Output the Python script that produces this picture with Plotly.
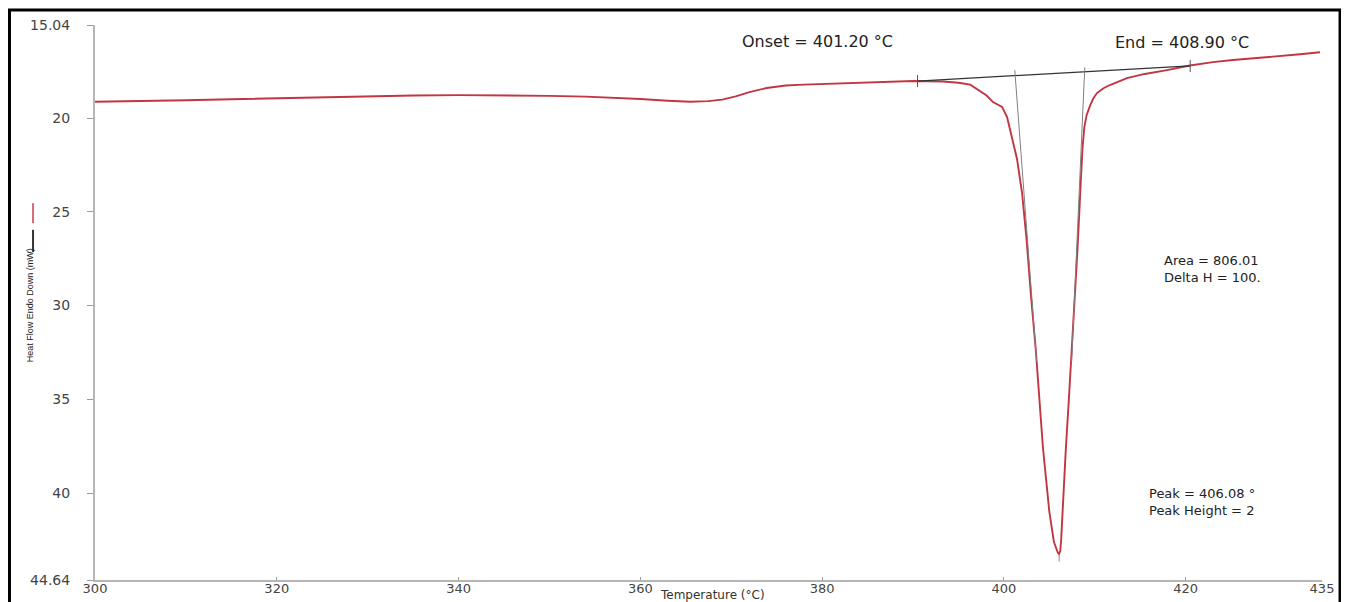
import plotly.graph_objects as go

# ---- data ----
temperature = [300.0, 305, 310, 315, 320, 325, 330, 335, 340, 345, 350, 354, 357, 360, 363,
               365.5, 367.5, 369, 370.5, 372, 373.9, 376, 378, 380, 383, 386, 390, 393.3,
               395, 396.3, 397.4, 398.1, 398.8, 399.8, 400.35, 400.9, 401.45, 402.0, 402.5,
               403.0, 403.5, 404.3, 405.0, 405.5, 405.75, 405.95, 406.08, 406.2, 406.3, 406.5,
               406.81, 407.15, 407.49, 408.1, 408.45, 408.65, 408.85, 409.1, 409.47, 409.85,
               410.24, 411.0, 411.67, 413.54, 415.5, 417.94, 420.47, 423, 425.2, 427, 428.95,
               431, 432.6, 434.78]
heat_flow = [19.13, 19.10, 19.05, 19.00, 18.94, 18.89, 18.84, 18.80, 18.78, 18.78, 18.82, 18.86,
             18.92, 18.99, 19.08, 19.13, 19.10, 19.02, 18.85, 18.62, 18.40, 18.27, 18.22, 18.19,
             18.15, 18.10, 18.03, 18.05, 18.12, 18.22, 18.55, 18.80, 19.15, 19.41, 19.95, 21.0,
             22.2, 24.0, 26.5, 29.6, 32.3, 37.6, 41.0, 42.6, 43.0, 43.2, 43.25, 43.1, 42.5, 40.4,
             37.7, 35.0, 32.3, 27.0, 23.5, 21.6, 20.5, 19.85, 19.35, 18.95, 18.67, 18.40,
             18.24, 17.87, 17.65, 17.45, 17.20, 17.02, 16.91, 16.84, 16.76, 16.68, 16.60,
             16.49]

baseline_temps = [390.5, 420.5]
baseline_vals = [18.03, 17.22]
onset_temps = [401.2, 403.6]
onset_vals = [17.45, 33.0]
end_temps = [408.9, 407.45]
end_vals = [17.3, 33.0]
tick_temps = [390.5, 420.5]
tick_lo = [17.7, 16.9]
tick_hi = [18.35, 17.55]
peak_temp = 406.08
peak_marker_vals = [43.25, 43.65]

x_ticks = [300, 320, 340, 360, 380, 400, 420, 435]
y_ticks = [15.04, 20, 25, 30, 35, 40, 44.64]
y_ticktext = ["15.04", "20", "25", "30", "35", "40", "44.64"]

fig = go.Figure()

fig.add_trace(go.Scatter(x=temperature, y=heat_flow, mode="lines",
                         line=dict(color="#c23542", width=1.9), showlegend=False))
fig.add_trace(go.Scatter(x=baseline_temps, y=baseline_vals, mode="lines",
                         line=dict(color="#333333", width=1.2), showlegend=False))
fig.add_trace(go.Scatter(x=onset_temps, y=onset_vals, mode="lines",
                         line=dict(color="#808080", width=1), showlegend=False))
fig.add_trace(go.Scatter(x=end_temps, y=end_vals, mode="lines",
                         line=dict(color="#808080", width=1), showlegend=False))
for t, lo, hi in zip(tick_temps, tick_lo, tick_hi):
    fig.add_trace(go.Scatter(x=[t, t], y=[lo, hi], mode="lines",
                             line=dict(color="#555555", width=1), showlegend=False))
fig.add_trace(go.Scatter(x=[peak_temp, peak_temp], y=peak_marker_vals, mode="lines",
                         line=dict(color="#888888", width=1), showlegend=False))

ann_font = dict(family="DejaVu Sans, Arial, sans-serif", size=16, color="#222222")
small_font = dict(family="DejaVu Sans, Arial, sans-serif", size=13, color="#222222")
fig.add_annotation(x=379.5, y=15.9, text="Onset = 401.20 °C", showarrow=False, font=ann_font,
                   xanchor="center", yanchor="middle")
fig.add_annotation(x=419.6, y=15.96, text="End = 408.90 °C", showarrow=False, font=ann_font,
                   xanchor="center", yanchor="middle")
fig.add_annotation(x=417.4, y=28.03, text="Area = 806.01<br>Delta H = 100.", showarrow=False,
                   font=small_font, xanchor="left", yanchor="middle", align="left")
fig.add_annotation(x=415.7, y=40.5, text="Peak = 406.08 °<br>Peak Height = 2", showarrow=False,
                   font=small_font, xanchor="left", yanchor="middle", align="left")

# axis titles
fig.add_annotation(xref="paper", yref="paper", x=-0.0530, y=0.495, xanchor="center",
                   yanchor="middle", text="Heat Flow Endo Down (mW)", textangle=-90,
                   showarrow=False,
                   font=dict(family="Liberation Sans Narrow, Arial, sans-serif", size=9,
                             color="#222222"))
fig.add_annotation(xref="paper", yref="paper", x=0.503, y=-0.027, xanchor="center",
                   yanchor="middle", text="Temperature (°C)", showarrow=False,
                   font=dict(family="DejaVu Sans, Arial, sans-serif", size=12,
                             color="#333333"))

# legend marks next to the y title
fig.add_shape(type="line", xref="paper", yref="paper", x0=-0.0505, x1=-0.0505,
              y0=0.643, y1=0.679, line=dict(color="#d46a75", width=2))
fig.add_shape(type="line", xref="paper", yref="paper", x0=-0.0505, x1=-0.0505,
              y0=0.591, y1=0.631, line=dict(color="#333333", width=2))

# outer frame
fig.add_shape(type="rect", xref="paper", yref="paper", x0=-0.0697, x1=1.0147,
              y0=-0.06, y1=1.027, line=dict(color="black", width=3))

tick_font = dict(family="DejaVu Sans, Arial, sans-serif", size=14, color="#444444")
fig.update_xaxes(range=[300, 435], tickvals=x_ticks, ticktext=[str(v) for v in x_ticks],
                 showline=True, linecolor="#b5b5b5", linewidth=2, ticks="inside",
                 ticklen=3, tickcolor="#999999", showgrid=False, zeroline=False,
                 tickfont=dict(family="DejaVu Sans, Arial, sans-serif", size=13,
                               color="#444444"),
                 automargin=False, ticklabelstandoff=-5)
fig.update_yaxes(range=[44.64, 15.04], tickvals=y_ticks, ticktext=y_ticktext,
                 showline=True, linecolor="#b5b5b5", linewidth=2, ticks="outside",
                 ticklen=6, tickcolor="#999999", showgrid=False, zeroline=False,
                 tickfont=tick_font, automargin=False, ticklabelstandoff=14)

# the page body adds an 8 px margin, so the figure is sized to fill the rest
fig.update_layout(width=1341, height=594, margin=dict(l=87, r=27, t=17, b=22),
                  plot_bgcolor="white", paper_bgcolor="white", showlegend=False)

fig.write_html("out.html")
